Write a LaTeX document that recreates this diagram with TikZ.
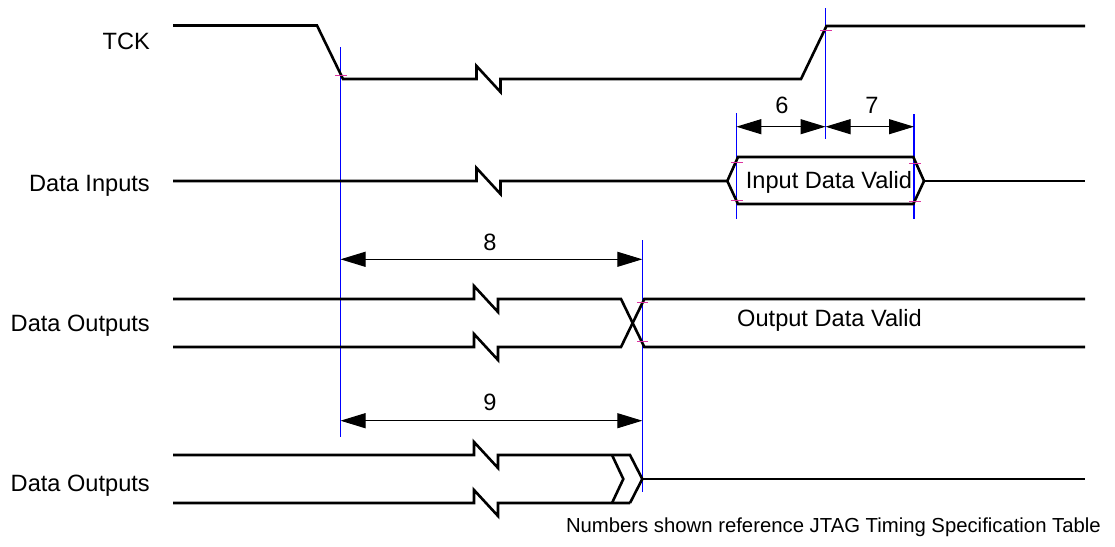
\documentclass[tikz,border=0pt]{standalone}
\usepackage{fontspec}
\setmainfont{Liberation Sans}
\usetikzlibrary{arrows.meta}
\definecolor{tickc}{RGB}{220,50,160}
\newcommand\brk[2]{-- (#1,#2) -- (#1,#2-13) -- (#1+24,#2+13) -- (#1+24,#2)}
\begin{document}
\begin{tikzpicture}[x=1pt,y=-1pt,
  sig/.style={line width=2.6pt, line join=miter},
  guide/.style={draw=blue, line width=1.3pt},
  tickmark/.style={draw=tickc, line width=1pt},
  dim/.style={line width=1pt, {Triangle[length=25pt,width=15pt]}-{Triangle[length=25pt,width=15pt]}},
  lbl/.style={font=\fontsize{23.6}{28}\selectfont, inner sep=0pt},
  note/.style={font=\fontsize{20.3}{24}\selectfont, inner sep=0pt}]
\useasboundingbox (0,0) rectangle (1115,546);

% guide lines (blue)
\coordinate (g1t) at (340.5,47);  \coordinate (g1b) at (340.5,437);
\coordinate (g2t) at (825.5,8);   \coordinate (g2b) at (825.5,139);
\coordinate (g3t) at (736.3,113); \coordinate (g3b) at (736.3,219);
\coordinate (g4t) at (914,114);   \coordinate (g4b) at (914,219);
\coordinate (g5t) at (642.3,240); \coordinate (g5b) at (642.3,492);
\draw[guide] (g1t) -- (g1b);
\draw[guide] (g2t) -- (g2b);
\draw[guide] (g3t) -- (g3b);
\draw[guide] (g4t) -- (g4b);
\draw[guide] (g5t) -- (g5b);

% TCK
\draw[sig] (173,25.5) -- (317,25.5) -- (343,79) \brk{476.5}{79} -- (801,79) -- (826.5,26) -- (1085,26);

% Data inputs
\draw[sig] (173,181) \brk{476.5}{181} -- (727.3,181);
\draw[sig] (727.3,181) -- (738,157) -- (913.3,157) -- (924,181) -- (913.3,204) -- (738,204) -- cycle;
\draw[sig] (924,181) -- (1085,181);

% Data outputs 1
\draw[sig] (173,299) \brk{474}{299} -- (621,299) -- (644.3,347) -- (1085,347);
\draw[sig] (173,347) \brk{474}{347} -- (621,347) -- (644.3,299) -- (1085,299);

% Data outputs 2
\draw[sig] (173,455) \brk{474}{455} -- (630,455) -- (642.3,479) -- (630,503);
\draw[sig] (173,503) \brk{474}{503} -- (630,503);
\draw[sig] (612,455) -- (623.3,479) -- (612,503);
\draw[sig] (642.3,479) -- (1085,479);

% ticks
\draw[tickmark] (335,75.3) -- (346.7,75.3);
\draw[tickmark] (820,30.7) -- (831.7,30.7);
\draw[tickmark] (730.7,162.7) -- (742.7,162.7);
\draw[tickmark] (730.7,200.3) -- (742.7,200.3);
\draw[tickmark] (909,163.7) -- (920.7,163.7);
\draw[tickmark] (909,201) -- (920.7,201);
\draw[tickmark] (637,302.7) -- (648,302.7);
\draw[tickmark] (637,341.3) -- (648,341.3);

% dimension arrows
\coordinate (a6l) at (736.3,126.7); \coordinate (a6r) at (825.5,126.7);
\coordinate (a7r) at (914,126.7);
\coordinate (a8l) at (340.5,259.3); \coordinate (a8r) at (642.3,259.3);
\coordinate (a9l) at (340.5,420.7); \coordinate (a9r) at (642.3,420.7);
\draw[dim] (a6l) -- (a6r);
\draw[dim] (a6r) -- (a7r);
\draw[dim] (a8l) -- (a8r);
\draw[dim] (a9l) -- (a9r);

% labels
\node[lbl, anchor=base east] (tck) at (150,49.3) {TCK};
\node[lbl, anchor=base east] (din) at (150,191.7) {Data Inputs};
\node[lbl, anchor=base east] (dout1) at (150,331.7) {Data Outputs};
\node[lbl, anchor=base east] (dout2) at (150,491.5) {Data Outputs};
\node[lbl, anchor=base] (idv) at (829,188.3) {Input Data Valid};
\node[lbl, anchor=base west] (odv) at (737,326.7) {Output Data Valid};
\node[lbl, anchor=base] (n6) at (782,113.3) {6};
\node[lbl, anchor=base] (n7) at (872,113.3) {7};
\node[lbl, anchor=base] (n8) at (490,250) {8};
\node[lbl, anchor=base] (n9) at (490,410) {9};
\node[note, anchor=base east] (nt) at (1101,532) {Numbers shown reference JTAG Timing Specification Table};
\end{tikzpicture}
\end{document}
